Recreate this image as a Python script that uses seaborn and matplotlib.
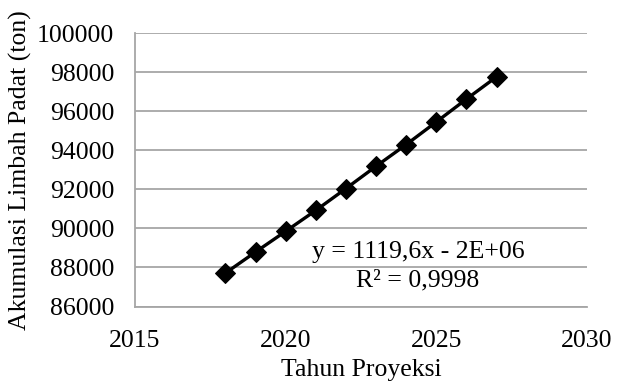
import matplotlib
matplotlib.use("Agg")
import matplotlib.pyplot as plt
import seaborn as sns
import pandas as pd

# Projected cumulative solid waste per year
tahun = [2018, 2019, 2020, 2021, 2022, 2023, 2024, 2025, 2026, 2027]
akumulasi = [87710, 88790, 89850, 90920, 92040, 93180, 94290, 95450, 96620, 97760]

x_ticks = [2015, 2020, 2025, 2030]
y_ticks = [86000, 88000, 90000, 92000, 94000, 96000, 98000, 100000]
persamaan = "y = 1119,6x - 2E+06"
r_kuadrat = "R² = 0,9998"

sns.set_theme(style="white")
plt.rcParams["font.family"] = ["Liberation Serif", "DejaVu Serif"]
plt.rcParams["text.color"] = "black"
plt.rcParams["axes.labelcolor"] = "black"

FS = 18.5

df = pd.DataFrame({"Tahun": tahun, "Akumulasi": akumulasi})

fig = plt.figure(figsize=(6.17, 3.91), dpi=100)
ax = fig.add_axes([0.2188, 0.2161, 0.7326, 0.6995])

sns.lineplot(data=df, x="Tahun", y="Akumulasi", ax=ax, color="black",
             linewidth=2.4, marker="D", markersize=10,
             markeredgecolor="black", markerfacecolor="black")

ax.set_xlim(2015, 2030)
ax.set_ylim(86000, 100000)
ax.set_xticks(x_ticks)
ax.set_yticks(y_ticks)
ax.set_xticklabels([str(v) for v in x_ticks], fontsize=FS)
ax.set_yticklabels([str(v) for v in y_ticks], fontsize=FS)
ax.tick_params(axis="both", length=0, colors="black")
ax.tick_params(axis="y", pad=15)
ax.tick_params(axis="x", pad=17)

ax.grid(axis="y", color="#a6a6a6", linewidth=1.3)
ax.grid(axis="x", visible=False)
ax.set_axisbelow(True)
for side in ["top", "right"]:
    ax.spines[side].set_visible(False)
for side in ["left", "bottom"]:
    ax.spines[side].set_color("#a6a6a6")
    ax.spines[side].set_linewidth(1.3)

ax.set_xlabel("Tahun Proyeksi", fontsize=FS)
ax.set_ylabel("Akumulasi Limbah Padat (ton)", fontsize=FS)
ax.xaxis.set_label_coords(0.5, -0.232)
ax.yaxis.set_label_coords(-0.254, 0.5)
ax.xaxis.label.set_va("center")
ax.yaxis.label.set_va("center")

ax.text(0.626, 0.199, persamaan, transform=ax.transAxes, ha="center",
        va="center", fontsize=FS)
ax.text(0.626, 0.097, r_kuadrat, transform=ax.transAxes, ha="center",
        va="center", fontsize=FS)

fig.savefig("out.png", dpi=100)
